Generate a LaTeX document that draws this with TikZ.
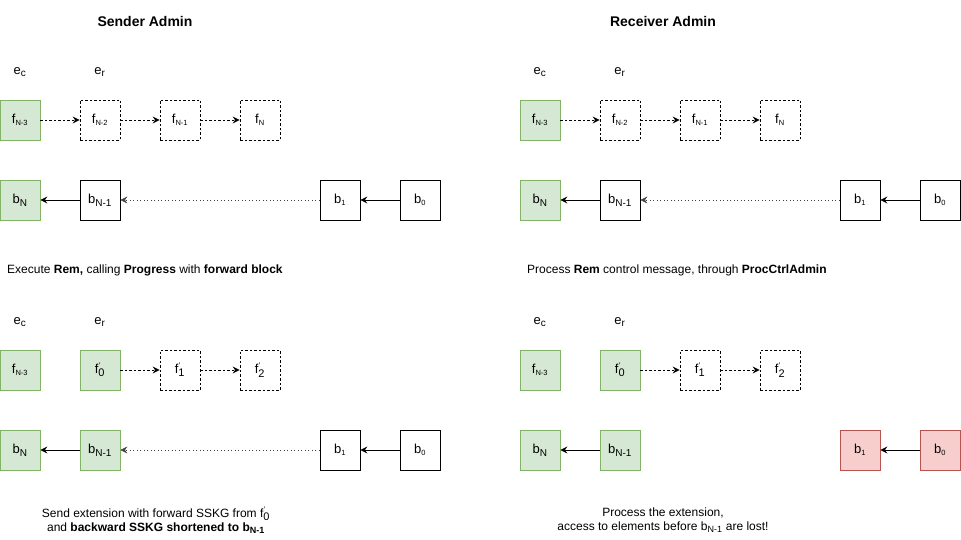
\documentclass[tikz,border=0pt]{standalone}
\usepackage{fontspec}
\setmainfont{Liberation Sans}
\usetikzlibrary{arrows.meta}
\definecolor{gfill}{HTML}{D5E8D4}
\definecolor{gline}{HTML}{82B366}
\definecolor{rfill}{HTML}{F8CECC}
\definecolor{rline}{HTML}{B85450}
\newcommand{\sbs}[1]{\textsubscript{\fontsize{10}{10}\selectfont #1}}
\newcommand{\tsbs}[1]{\textsubscript{\fontsize{7.5}{7.5}\selectfont #1}}
\newcommand{\fp}[1]{f\rlap{\raisebox{5pt}{\fontsize{8}{8}\selectfont\kern0.3pt\char"0027}}\textsubscript{\fontsize{11}{11}\selectfont #1}}
\begin{document}
\begin{tikzpicture}[x=1pt,y=1pt,
  every node/.style={font=\fontsize{12}{14}\selectfont},
  box/.style={draw,line width=0.8pt,minimum width=40pt,minimum height=40pt,inner sep=0pt,font=\fontsize{13}{15}\selectfont},
  dbox/.style={box,dashed,dash pattern=on 2.5pt off 2pt},
  gbox/.style={box,draw=gline,fill=gfill},
  rbox/.style={box,draw=rline,fill=rfill},
  arr/.style={-{Stealth[length=7pt,width=7pt,inset=2.5pt]},line width=0.8pt},
  darr/.style={arr,dash pattern=on 2.5pt off 2pt},
  dotarr/.style={arr,draw=black!75,line width=0.6pt,dash pattern=on 1pt off 2.5pt},
  lbl/.style={font=\fontsize{13}{15}\selectfont},
  title/.style={font=\bfseries\fontsize{14}{17}\selectfont},
  txt/.style={font=\fontsize{12}{14}\selectfont,anchor=west,inner sep=0pt},
  ctxt/.style={font=\fontsize{12}{14}\selectfont,align=center,inner sep=0pt}
]
\useasboundingbox (0,0) rectangle (961,-540);
% titles
\node[title] (t1) at (145,-21) {Sender Admin};
\node[title] (t2) at (663,-21) {Receiver Admin};

% ===== top-left =====
\node[lbl] (ec1) at (20,-72) {e\sbs{c}};
\node[lbl] (er1) at (100,-72) {e\sbs{r}};
\node[gbox] (a1) at (20,-120) {f\tsbs{N-3}};
\node[dbox] (a2) at (100,-120) {f\tsbs{N-2}};
\node[dbox] (a3) at (180,-120) {f\tsbs{N-1}};
\node[dbox] (a4) at (260,-120) {f\tsbs{N}};
\draw[darr] (a1) -- (a2);
\draw[darr] (a2) -- (a3);
\draw[darr] (a3) -- (a4);
\node[gbox] (b1) at (20,-200) {b\sbs{N}};
\node[box] (b2) at (100,-200) {b\sbs{N-1}};
\node[box] (b3) at (340,-200) {b\tsbs{1}};
\node[box] (b4) at (420,-200) {b\tsbs{0}};
\draw[arr] (b2) -- (b1);
\draw[dotarr] (b3) -- (b2);
\draw[arr] (b4) -- (b3);

% ===== top-right =====
\node[lbl] (ec2) at (540,-72) {e\sbs{c}};
\node[lbl] (er2) at (620,-72) {e\sbs{r}};
\node[gbox] (c1) at (540,-120) {f\tsbs{N-3}};
\node[dbox] (c2) at (620,-120) {f\tsbs{N-2}};
\node[dbox] (c3) at (700,-120) {f\tsbs{N-1}};
\node[dbox] (c4) at (780,-120) {f\tsbs{N}};
\draw[darr] (c1) -- (c2);
\draw[darr] (c2) -- (c3);
\draw[darr] (c3) -- (c4);
\node[gbox] (d1) at (540,-200) {b\sbs{N}};
\node[box] (d2) at (620,-200) {b\sbs{N-1}};
\node[box] (d3) at (860,-200) {b\tsbs{1}};
\node[box] (d4) at (940,-200) {b\tsbs{0}};
\draw[arr] (d2) -- (d1);
\draw[dotarr] (d3) -- (d2);
\draw[arr] (d4) -- (d3);

% middle texts
\node[txt] (m1) at (7,-270) {Execute \textbf{Rem,} calling \textbf{Progress} with \textbf{forward block}};
\node[txt] (m2) at (527,-270) {Process \textbf{Rem} control message, through \textbf{ProcCtrlAdmin}};

% ===== bottom-left =====
\node[lbl] (ec3) at (20,-322) {e\sbs{c}};
\node[lbl] (er3) at (100,-322) {e\sbs{r}};
\node[gbox] (e1) at (20,-370) {f\tsbs{N-3}};
\node[gbox] (e2) at (100,-370) {\fp{0}};
\node[dbox] (e3) at (180,-370) {\fp{1}};
\node[dbox] (e4) at (260,-370) {\fp{2}};
\draw[darr] (e2) -- (e3);
\draw[darr] (e3) -- (e4);
\node[gbox] (g1) at (20,-450) {b\sbs{N}};
\node[gbox] (g2) at (100,-450) {b\sbs{N-1}};
\node[box] (g3) at (340,-450) {b\tsbs{1}};
\node[box] (g4) at (420,-450) {b\tsbs{0}};
\draw[arr] (g2) -- (g1);
\draw[dotarr] (g3) -- (g2);
\draw[arr] (g4) -- (g3);

% ===== bottom-right =====
\node[lbl] (ec4) at (540,-322) {e\sbs{c}};
\node[lbl] (er4) at (620,-322) {e\sbs{r}};
\node[gbox] (h1) at (540,-370) {f\tsbs{N-3}};
\node[gbox] (h2) at (620,-370) {\fp{0}};
\node[dbox] (h3) at (700,-370) {\fp{1}};
\node[dbox] (h4) at (780,-370) {\fp{2}};
\draw[darr] (h2) -- (h3);
\draw[darr] (h3) -- (h4);
\node[gbox] (k1) at (540,-450) {b\sbs{N}};
\node[gbox] (k2) at (620,-450) {b\sbs{N-1}};
\node[rbox] (k3) at (860,-450) {b\tsbs{1}};
\node[rbox] (k4) at (940,-450) {b\tsbs{0}};
\draw[arr] (k2) -- (k1);
\draw[arr] (k4) -- (k3);

% bottom texts
\node[ctxt] (n1) at (156,-520) {Send extension with forward SSKG from \fp{0}\\ and \textbf{backward SSKG shortened to b\textsubscript{\fontsize{9}{9}\selectfont N-1}}};
\node[ctxt] (n2) at (663,-520) {Process the extension,\\ access to elements before b\textsubscript{\fontsize{9}{9}\selectfont N-1} are lost!};
\end{tikzpicture}
\end{document}
